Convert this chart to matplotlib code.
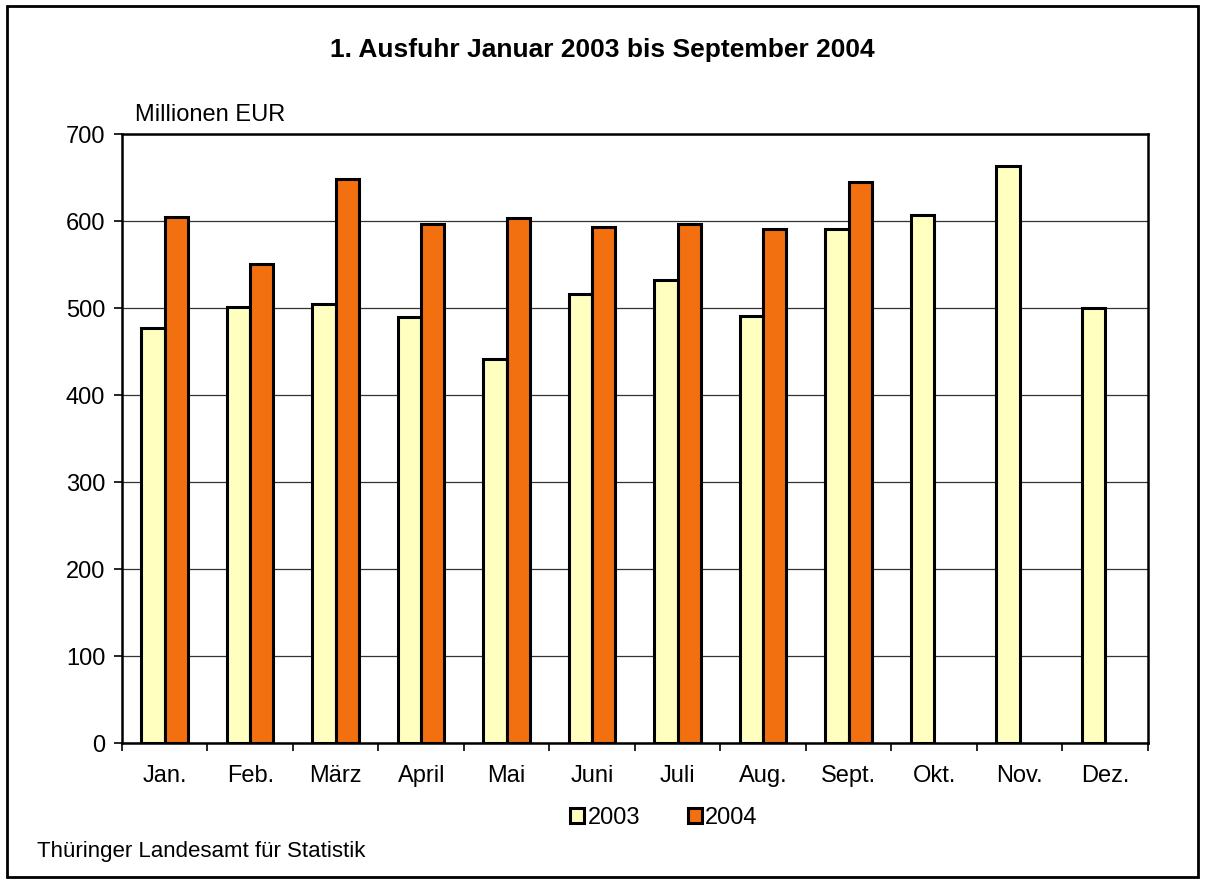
import numpy as np
import matplotlib.pyplot as plt
from matplotlib.patches import Rectangle
from matplotlib.ticker import FixedLocator

plt.rcParams['font.family'] = ['Liberation Sans', 'DejaVu Sans']

months = ["Jan.", "Feb.", "März", "April", "Mai", "Juni", "Juli", "Aug.", "Sept.", "Okt.", "Nov.", "Dez."]
exports_2003 = [477, 501, 505, 490, 441, 516, 532, 491, 591, 607, 663, 500]
exports_2004 = [605, 551, 648, 597, 604, 593, 596, 591, 645, np.nan, np.nan, np.nan]
yticks = [0, 100, 200, 300, 400, 500, 600, 700]

fig = plt.figure(figsize=(12.05, 8.84), dpi=100)
ax = fig.add_axes([0.1012, 0.1595, 0.8515, 0.6889])

x = np.arange(len(months))
w = 0.272
ax.bar(x - w / 2, exports_2003, w, color="#FFFFC0", edgecolor="black", linewidth=2.2, label="2003", zorder=3)
ax.bar(x + w / 2, exports_2004, w, color="#F27010", edgecolor="black", linewidth=2.2, label="2004", zorder=3)

ax.set_xlim(-0.5, len(months) - 0.5)
ax.set_ylim(0, 700)
ax.set_yticks(yticks)
ax.yaxis.grid(True, color="#333333", linewidth=0.9, zorder=0)
ax.set_axisbelow(True)

ax.set_xticks(x)
ax.set_xticklabels(months, fontsize=17)
ax.tick_params(axis="x", which="major", length=0, pad=16)
ax.xaxis.set_minor_locator(FixedLocator(np.arange(-0.5, len(months), 1)))
ax.tick_params(axis="x", which="minor", length=6, width=1.2, direction="out")
ax.tick_params(axis="y", length=6, width=1.2, direction="out", labelsize=17, pad=6)

for s in ax.spines.values():
    s.set_linewidth(1.8)

fig.text(0.5, 0.943, "1. Ausfuhr Januar 2003 bis September 2004", ha="center", va="center",
         fontsize=19, fontweight="bold")
fig.text(0.112, 0.870, "Millionen EUR", ha="left", va="center", fontsize=17)
fig.text(0.031, 0.037, "Thüringer Landesamt für Statistik", ha="left", va="center", fontsize=16)

leg = fig.legend(loc="center", bbox_to_anchor=(0.551, 0.075), ncol=2, frameon=False, fontsize=17,
                 handlelength=0.6, handleheight=0.6, handletextpad=0.15, columnspacing=2.0)

fig.patches.append(Rectangle((0.006, 0.008), 0.988, 0.985, transform=fig.transFigure,
                             fill=False, edgecolor="black", linewidth=2))

fig.savefig("out.png", dpi=100)
